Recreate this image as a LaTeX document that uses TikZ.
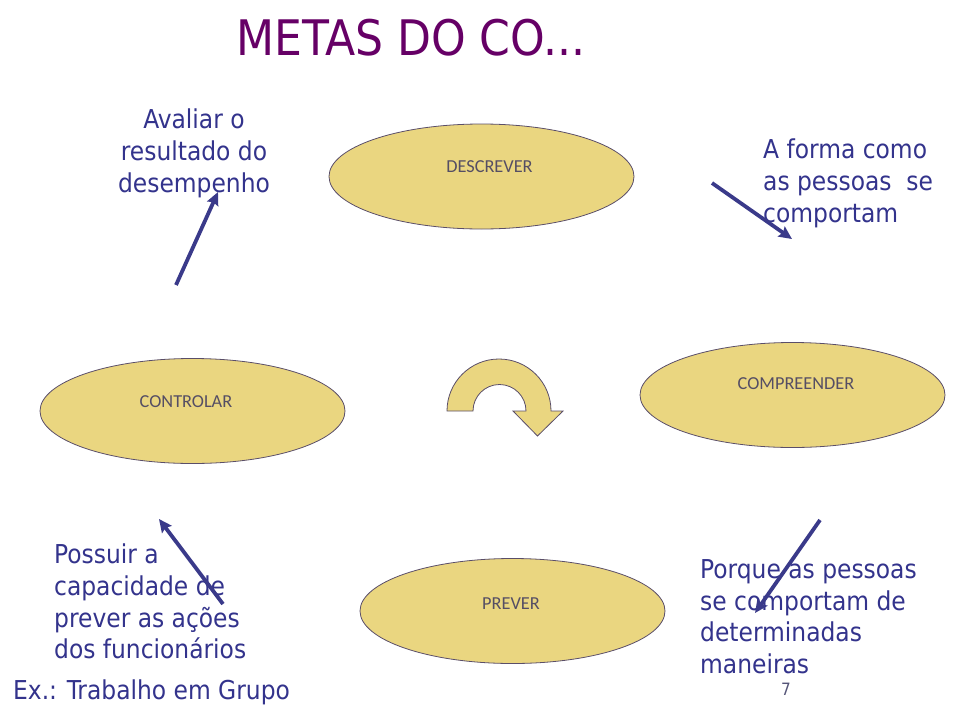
\documentclass[tikz,border=0pt]{standalone}
\usepackage{fontspec}
\newfontfamily\tahfont{DejaVu Sans Condensed}
\newfontfamily\calfont{Carlito}
\usetikzlibrary{shapes.geometric,arrows.meta}
\definecolor{titlec}{RGB}{102,0,102}
\definecolor{bodyc}{RGB}{51,51,140}
\definecolor{arrc}{RGB}{58,58,138}
\definecolor{ellfill}{RGB}{234,214,128}
\definecolor{elldraw}{RGB}{90,78,105}
\definecolor{elltxt}{RGB}{85,78,100}
\definecolor{numc}{RGB}{85,85,120}
\tikzset{
  ell/.style={ellipse,draw=elldraw,fill=ellfill,line width=0.8pt,minimum width=305pt,minimum height=105pt,inner sep=0pt},
  elltext/.style={anchor=base,inner sep=0pt,text=elltxt,font=\calfont\fontsize{18.3}{21}\selectfont},
  bodyl/.style={anchor=base west,inner sep=0pt,text=bodyc,font=\tahfont\fontsize{26}{31.5}\selectfont},
  bodym/.style={anchor=base,inner sep=0pt,text=bodyc,font=\tahfont\fontsize{26}{31.5}\selectfont},
  arr/.style={draw=arrc,line width=3.8pt,-{Stealth[length=13pt,width=12pt,inset=2pt]}},
  cyc/.style={draw=elldraw,fill=ellfill,line width=0.8pt,line join=miter}
}
\begin{document}
\begin{tikzpicture}[x=1pt,y=-1pt]
\useasboundingbox (0,0) rectangle (960,720);
% title
\node[anchor=base west,inner sep=0pt,text=titlec,font=\tahfont\fontsize{49}{56}\selectfont] (title) at (236,55) {METAS DO CO...};
% ellipses
\node[ell] (desc) at (481.5,176.5) {};
\node[elltext] (desct) at (489.5,172) {DESCREVER};
\node[ell] (ctrl) at (192.5,411) {};
\node[elltext] (ctrlt) at (186,407) {CONTROLAR};
\node[ell] (comp) at (792.5,395) {};
\node[elltext] (compt) at (796,389) {COMPREENDER};
\node[ell] (prev) at (512.5,611) {};
\node[elltext] (prevt) at (511,609) {PREVER};
% curved arrow
\path[cyc] (447,411) arc[start angle=180,end angle=0,radius=52pt]
  -- (563,411) -- (537.5,436) -- (513,411) -- (526,411)
  arc[start angle=0,end angle=180,radius=26.5pt] -- cycle;
% texts
\node[bodym] (av1) at (194,128) {Avaliar o};
\node[bodym] (av2) at (194,160) {resultado do};
\node[bodym] (av3) at (194,192) {desempenho};
\node[bodyl] (af1) at (763,158) {A forma como};
\node[bodyl] (af2) at (763,190) {as pessoas\ \ se};
\node[bodyl] (af3) at (763,222) {comportam};
\node[bodyl] (po1) at (54,563) {Possuir a};
\node[bodyl] (po2) at (54,595) {capacidade de};
\node[bodyl] (po3) at (54,627) {prever as ações};
\node[bodyl] (po4) at (54,658) {dos funcionários};
\node[bodyl] (ex) at (13,699) {Ex.: Trabalho em Grupo};
\node[bodyl] (pq1) at (700,578) {Porque as pessoas};
\node[bodyl] (pq2) at (700,610) {se comportam de};
\node[bodyl] (pq3) at (700,641) {determinadas};
\node[bodyl] (pq4) at (700,673) {maneiras};
\node[anchor=base,inner sep=0pt,text=numc,font=\tahfont\fontsize{17}{20}\selectfont] (num) at (786,695) {7};
% arrows
\coordinate (a1s) at (176,285); \coordinate (a1e) at (218,192);
\coordinate (a2s) at (712,183); \coordinate (a2e) at (792,239);
\coordinate (a3s) at (820,520); \coordinate (a3e) at (755,613);
\coordinate (a4s) at (223,604); \coordinate (a4e) at (159,519);
\draw[arr] (a1s) -- (a1e);
\draw[arr] (a2s) -- (a2e);
\draw[arr] (a3s) -- (a3e);
\draw[arr] (a4s) -- (a4e);
\end{tikzpicture}
\end{document}
